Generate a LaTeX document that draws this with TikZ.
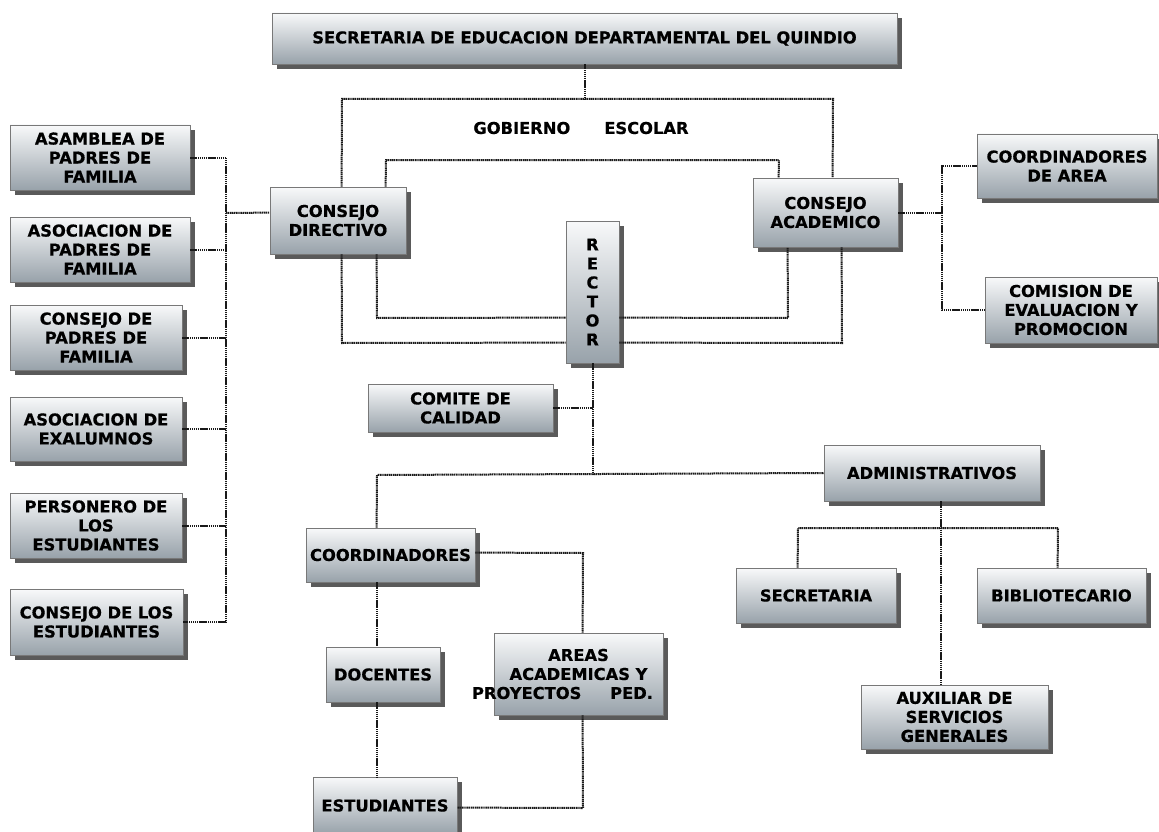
\documentclass[tikz,border=0pt]{standalone}
\usepackage{fontspec}
\setmainfont{DejaVu Sans}
\newfontfamily\boxfont{DejaVu Sans Bold}[FakeBold=0.6]
\usetikzlibrary{shadows,calc}
\definecolor{boxtop}{RGB}{248,249,250}
\definecolor{boxbot}{RGB}{152,162,170}
\definecolor{boxline}{RGB}{120,120,120}
\definecolor{shadowgray}{RGB}{90,90,90}
\definecolor{wirecol}{RGB}{25,25,25}
\begin{document}
\begin{tikzpicture}[x=1pt,y=-1pt,
  orgbox/.style={rectangle, draw=boxline, line width=0.8pt,
    top color=boxtop, bottom color=boxbot,
    drop shadow={shadow xshift=5pt, shadow yshift=-5pt, fill=shadowgray, opacity=1},
    align=center, inner sep=2pt, font=\fontsize{16.3}{19}\selectfont\boxfont},
  wire/.style={draw=wirecol, line width=2pt, dash pattern=on 1.3pt off 0.6pt},
  headtext/.style={font=\fontsize{16.3}{19}\selectfont\boxfont}]
\useasboundingbox (0,0) rectangle (1159,832);

% ---- boxes ----
\node[orgbox, minimum width=625, minimum height=51] (sec) at (584.5,38.5)
  {SECRETARIA DE EDUCACION DEPARTAMENTAL DEL QUINDIO};

\node[orgbox, minimum width=180, minimum height=65] (asamblea) at (100,157.5)
  {ASAMBLEA DE\\PADRES DE\\FAMILIA};
\node[orgbox, minimum width=180, minimum height=65] (asocpadres) at (100,249.5)
  {ASOCIACION DE\\PADRES DE\\FAMILIA};
\node[orgbox, minimum width=172, minimum height=65] (conspadres) at (96,337.5)
  {CONSEJO DE\\PADRES DE\\FAMILIA};
\node[orgbox, minimum width=172, minimum height=64] (exalumnos) at (96,429)
  {ASOCIACION DE\\EXALUMNOS};
\node[orgbox, minimum width=172, minimum height=65] (personero) at (96,525.5)
  {PERSONERO DE\\LOS\\ESTUDIANTES};
\node[orgbox, minimum width=173, minimum height=66] (consest) at (96.5,622)
  {CONSEJO DE LOS\\ESTUDIANTES};

\node[orgbox, minimum width=136, minimum height=67] (cd) at (338,220.5)
  {CONSEJO\\DIRECTIVO};
\node[orgbox, minimum width=145, minimum height=69] (ca) at (825.5,212.5)
  {CONSEJO\\ACADEMICO};
\node[orgbox, minimum width=53, minimum height=142] (rector) at (592.5,292)
  {R\\E\\C\\T\\O\\R};

\node[orgbox, minimum width=180, minimum height=64] (coordarea) at (1067,166)
  {COORDINADORES\\DE AREA};
\node[orgbox, minimum width=172, minimum height=66] (comision) at (1071,310)
  {COMISION DE\\EVALUACION Y\\PROMOCION};

\node[orgbox, minimum width=185, minimum height=48] (comite) at (460.5,408)
  {COMITE DE\\CALIDAD};
\node[orgbox, minimum width=216, minimum height=56] (admin) at (932,473)
  {ADMINISTRATIVOS};
\node[orgbox, minimum width=169, minimum height=54] (coord) at (390.5,555)
  {COORDINADORES};
\node[orgbox, minimum width=160, minimum height=55] (secretaria) at (816,595.5)
  {SECRETARIA};
\node[orgbox, minimum width=169, minimum height=55] (biblio) at (1061.5,595.5)
  {BIBLIOTECARIO};
\node[orgbox, minimum width=187, minimum height=64] (aux) at (954.5,717)
  {AUXILIAR DE\\SERVICIOS\\GENERALES};
\node[orgbox, minimum width=114, minimum height=55] (docentes) at (383,674.5)
  {DOCENTES};
\node[orgbox, minimum width=169, minimum height=82] (areas) at (578.5,674)
  {AREAS\\ACADEMICAS Y\\\hspace*{-32pt}\makebox[181pt][s]{PROYECTOS\hfill PED.}};
\node[orgbox, minimum width=144, minimum height=57] (estudiantes) at (385,805.5)
  {ESTUDIANTES};

\node[headtext] (gobierno) at (581,128) {GOBIERNO\hspace{34pt}ESCOLAR};

% ---- connectors: secretaria to gobierno escolar ----
\draw[wire] (sec.south) -- (584.5,99);
\draw[wire] ($(cd.north west)+(72,0)$) -- (342,99) -- (833,99) -- ($(ca.north west)+(80,0)$);
\draw[wire] ($(cd.north west)+(116,0)$) -- (386,160) -- (779,160) -- ($(ca.north west)+(26,0)$);

% consejo directivo / academico to rector
\draw[wire] ($(cd.south west)+(107,0)$) -- (377,318) -- ($(rector.north west)+(0,97)$);
\draw[wire] ($(cd.south west)+(72,0)$) -- (342,343) -- ($(rector.north west)+(0,122)$);
\draw[wire] ($(rector.north east)+(0,97)$) -- (788,318) -- ($(ca.south west)+(35,0)$);
\draw[wire] ($(rector.north east)+(0,122)$) -- (842,343) -- ($(ca.south west)+(89,0)$);

% left column bus into consejo directivo
\draw[wire] (asamblea.east) -- (226,157.5) -- (226,622) -- (consest.east);
\draw[wire] (asocpadres.east) -- (226,249.5);
\draw[wire] (conspadres.east) -- (226,337.5);
\draw[wire] (exalumnos.east) -- (226,429);
\draw[wire] (personero.east) -- (226,525.5);
\draw[wire] (226,213) -- ($(cd.north west)+(0,26)$);

% consejo academico to its committees
\draw[wire] (ca.east) -- (942,212.5);
\draw[wire] (coordarea.west) -- (942,166) -- (942,310) -- (comision.west);

% rector downwards
\draw[wire] (rector.south) -- (592.5,475);
\draw[wire] (comite.east) -- (592.5,408);
\draw[wire] ($(coord.north west)+(71,0)$) -- (377,475) -- (admin.west);

% administrative staff
\draw[wire] ($(admin.south west)+(117,0)$) -- ($(aux.north west)+(80,0)$);
\draw[wire] ($(secretaria.north west)+(62,0)$) -- (798,528) -- (1058,528) -- ($(biblio.north west)+(81,0)$);

% academic staff
\draw[wire] ($(coord.north east)+(0,25)$) -- (583,553) -- ($(areas.north west)+(89,0)$);
\draw[wire] ($(coord.south west)+(71,0)$) -- ($(docentes.north west)+(51,0)$);
\draw[wire] ($(docentes.south west)+(51,0)$) -- ($(estudiantes.north west)+(64,0)$);
\draw[wire] ($(areas.south west)+(89,0)$) -- (583,808) -- ($(estudiantes.north east)+(0,31)$);
\end{tikzpicture}
\end{document}
